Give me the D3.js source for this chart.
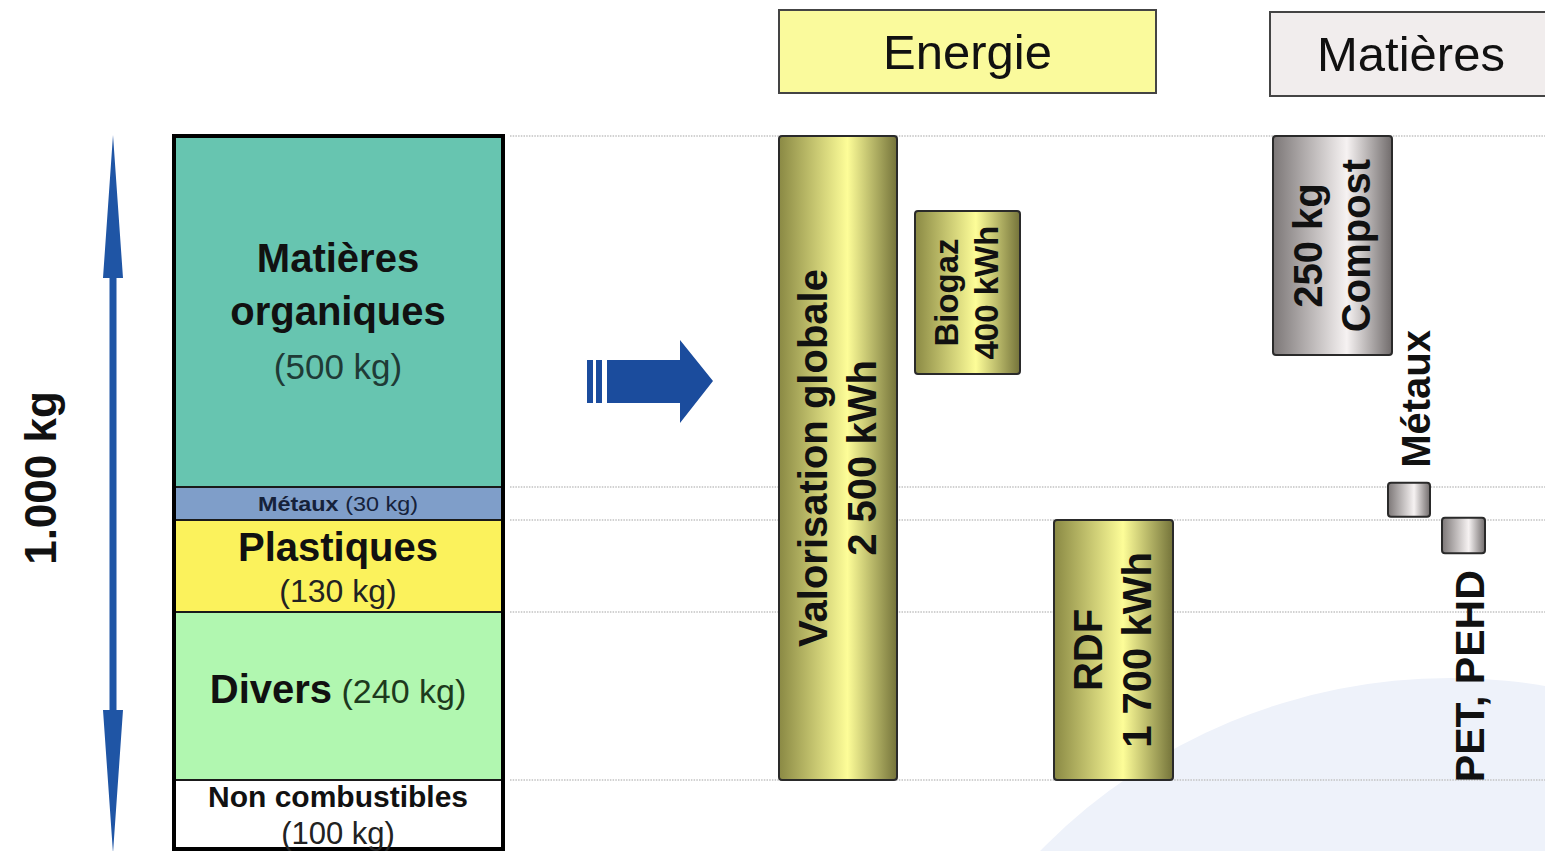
<!DOCTYPE html>
<html>
<head>
<meta charset="utf-8">
<script src="https://cdn.jsdelivr.net/npm/d3@7"></script>
<style>
  body { margin: 0; background: #fff; overflow: hidden; }
  text { font-family: "Liberation Sans", Arial, sans-serif; }
</style>
</head>
<body>
<svg id="chart" width="1545" height="851"></svg>
<script>
// ---- data ----
const TOTAL_KG = 1000
const totalLabel = '1.000 kg'

const fractionNames = ['Matières organiques', 'Métaux', 'Plastiques', 'Divers', 'Non combustibles']
const fractionKg = [500, 30, 130, 240, 100]

const columnTitles = ['Energie', 'Matières']

// energy outputs, drawn against the same kg axis as the input column
const energyLabels = [['Valorisation globale', '2 500 kWh'], ['Biogaz', '400 kWh'], ['RDF', '1 700 kWh']]
const energyFromKg = [0, 107, 530]
const energyToKg = [900, 339, 900]

// material outputs
const materialLabels = [['250 kg', 'Compost'], ['Métaux'], ['PET, PEHD']]
const materialFromKg = [0, 494, 528]
const materialToKg = [312, 527, 577]

// ---- styles / layout ----
const fractionFill = ['#67c5b0', '#7f9ec9', '#fbf25c', '#b1f7b0', '#ffffff']
const energyX = [779, 915, 1054]
const energyW = [118, 105, 119]
const energyFont = [40, 33, 40]
const materialX = [1273, 1388, 1442]
const materialW = [119, 42, 43]

const svg = d3.select('#chart')

// cumulative bounds
const bounds = []
let acc = 0
fractionKg.forEach((kg, i) => {
  bounds.push({name: fractionNames[i], kg: kg, from: acc, to: acc + kg, fill: fractionFill[i]})
  acc += kg
})

// the source drawing is not to a uniform scale: piecewise scale through the band edges
const y = d3.scaleLinear()
  .domain([0].concat(bounds.map(d => d.to)))
  .range([136, 487, 520, 612, 780, 849])

const defs = svg.append('defs')
function cylGradient(id, edgeL, mid, edgeR, midPos) {
  const g = defs.append('linearGradient').attr('id', id)
    .attr('x1', '0%').attr('x2', '100%').attr('y1', '0%').attr('y2', '0%')
  g.append('stop').attr('offset', '0%').attr('stop-color', edgeL)
  g.append('stop').attr('offset', midPos).attr('stop-color', mid)
  g.append('stop').attr('offset', '100%').attr('stop-color', edgeR)
}
cylGradient('gYellow', '#8a8944', '#fdfd98', '#74733a', '58%')
cylGradient('gGrey', '#7c7777', '#f6f2f2', '#716c6c', '62%')

// pale blue backdrop, bottom right
svg.append('circle')
  .attr('cx', 1450).attr('cy', 1250).attr('r', 572)
  .attr('fill', '#eef2fa')

// dotted guide lines at the fraction boundaries
const guideKg = bounds.slice(0, 4).map(d => d.from).concat([bounds[3].to])
svg.selectAll('line.guide')
  .data(guideKg)
  .enter()
  .append('line')
  .attr('class', 'guide')
  .attr('x1', 510).attr('x2', 1545)
  .attr('y1', d => y(d)).attr('y2', d => y(d))
  .attr('stroke', '#c2c2c2')
  .attr('stroke-width', 1.6)
  .attr('stroke-dasharray', '1.5 1.2')

// ---- input column ----
const barX = 176, barW = 325
svg.selectAll('rect.fraction')
  .data(bounds)
  .enter()
  .append('rect')
  .attr('class', 'fraction')
  .attr('x', barX).attr('width', barW)
  .attr('y', d => y(d.from))
  .attr('height', d => y(d.to) - y(d.from))
  .attr('fill', d => d.fill)

svg.selectAll('line.sep')
  .data(bounds.slice(1))
  .enter()
  .append('line')
  .attr('x1', barX).attr('x2', barX + barW)
  .attr('y1', d => y(d.from)).attr('y2', d => y(d.from))
  .attr('stroke', '#1a1a1a').attr('stroke-width', 2)

svg.append('rect')
  .attr('x', barX - 2).attr('y', y(0))
  .attr('width', barW + 4).attr('height', y(TOTAL_KG) - y(0))
  .attr('fill', 'none').attr('stroke', '#000').attr('stroke-width', 4)

// labels inside the column
const cx = 338
const kgTxt = d => '(' + d.kg + ' kg)'
const lab = svg.append('g')
function line(txt, yy, size, weight, fill) {
  return lab.append('text')
    .attr('x', cx).attr('y', yy).attr('dy', '0.35em')
    .attr('text-anchor', 'middle')
    .attr('font-size', size).attr('font-weight', weight)
    .attr('fill', fill || '#111')
    .text(txt)
}
const organic = bounds[0], metal = bounds[1], plastic = bounds[2], divers = bounds[3], nonc = bounds[4]
const words = organic.name.split(' ')
line(words[0], 258, 40, 'bold')
line(words[1], 311, 40, 'bold')
line(kgTxt(organic), 367, 35, 'normal', '#1f3b36')

const mt = lab.append('text')
  .attr('x', cx).attr('y', (y(metal.from) + y(metal.to)) / 2).attr('dy', '0.35em')
  .attr('text-anchor', 'middle').attr('font-size', 21)
  .attr('textLength', 160).attr('lengthAdjust', 'spacingAndGlyphs')
  .attr('fill', '#16223a')
mt.append('tspan').attr('font-weight', 'bold').text(metal.name)
mt.append('tspan').text(' ' + kgTxt(metal))

line(plastic.name, 547, 40, 'bold')
line(kgTxt(plastic), 591, 32, 'normal', '#222')

const dv = lab.append('text')
  .attr('x', cx).attr('y', 697).attr('dy', '0.35em')
  .attr('text-anchor', 'middle').attr('fill', '#111')
dv.append('tspan').attr('font-size', 40).attr('font-weight', 'bold').text(divers.name)
dv.append('tspan').attr('font-size', 34).attr('fill', '#1d3a1d').text(' ' + kgTxt(divers))

line(nonc.name, 796, 30, 'bold')
line(kgTxt(nonc), 833, 31, 'normal', '#222')

// ---- total double arrow ----
const ax = 113, y0 = y(0) - 1, y1 = y(TOTAL_KG) + 4
const headLen = 143, headHalf = 10, shaftHalf = 3.5
svg.append('path')
  .attr('d', d3.line()([
    [ax, y0], [ax + headHalf, y0 + headLen], [ax + shaftHalf, y0 + headLen],
    [ax + shaftHalf, y1 - headLen], [ax + headHalf, y1 - headLen], [ax, y1],
    [ax - headHalf, y1 - headLen], [ax - shaftHalf, y1 - headLen],
    [ax - shaftHalf, y0 + headLen], [ax - headHalf, y0 + headLen]
  ]) + 'Z')
  .attr('fill', '#1f55a5')

svg.append('text')
  .attr('transform', 'translate(41,' + ((y0 + y1) / 2 - 16) + ') rotate(-90)')
  .attr('dy', '0.35em')
  .attr('text-anchor', 'middle')
  .attr('font-size', 44).attr('font-weight', 'bold').attr('fill', '#111')
  .text(totalLabel)

// ---- big flow arrow ----
const arrowBlue = '#1b4c9d'
svg.append('path')
  .attr('d', 'M607,360 L680,360 L680,340 L713,381 L680,423 L680,403 L607,403 Z')
  .attr('fill', arrowBlue)
svg.selectAll('rect.stripe')
  .data([587, 596])
  .enter()
  .append('rect')
  .attr('x', d => d).attr('width', 6)
  .attr('y', 360).attr('height', 43)
  .attr('fill', arrowBlue)

// ---- column titles ----
const titleBoxes = [
  {x: 779, y: 10, w: 377, h: 83, fill: '#fafa9c'},
  {x: 1270, y: 12, w: 282, h: 84, fill: '#f1eded'}
]
titleBoxes.forEach((b, i) => {
  svg.append('rect')
    .attr('x', b.x).attr('y', b.y).attr('width', b.w).attr('height', b.h)
    .attr('fill', b.fill).attr('stroke', '#444').attr('stroke-width', 2)
  svg.append('text')
    .attr('x', b.x + b.w / 2).attr('y', b.y + b.h / 2).attr('dy', '0.35em')
    .attr('text-anchor', 'middle').attr('font-size', 49).attr('fill', '#111')
    .text(columnTitles[i])
})

// ---- output blocks ----
function block(x, w, from, to, grad) {
  svg.append('rect')
    .attr('x', x).attr('width', w)
    .attr('y', y(from)).attr('height', y(to) - y(from))
    .attr('rx', 3)
    .attr('fill', 'url(#' + grad + ')')
    .attr('stroke', '#2a2a2a').attr('stroke-width', 2)
}
function rotatedLines(lines, x, yy, size, gap) {
  const g = svg.append('g').attr('transform', 'translate(' + x + ',' + yy + ') rotate(-90)')
  lines.forEach((t, i) => {
    g.append('text')
      .attr('x', 0).attr('y', (i - (lines.length - 1) / 2) * gap)
      .attr('dy', '0.35em').attr('text-anchor', 'middle')
      .attr('font-size', size).attr('font-weight', 'bold').attr('fill', '#111')
      .text(t)
  })
}

energyLabels.forEach((lbl, i) => {
  block(energyX[i], energyW[i], energyFromKg[i], energyToKg[i], 'gYellow')
  const mid = (y(energyFromKg[i]) + y(energyToKg[i])) / 2
  rotatedLines(lbl, energyX[i] + energyW[i] / 2 - 1, mid, energyFont[i], energyFont[i] === 40 ? 49 : 40)
})

// compost: label inside
block(materialX[0], materialW[0], materialFromKg[0], materialToKg[0], 'gGrey')
rotatedLines(materialLabels[0], materialX[0] + materialW[0] / 2 - 1,
  (y(materialFromKg[0]) + y(materialToKg[0])) / 2, 40, 48)

// métaux: label above the box
block(materialX[1], materialW[1], materialFromKg[1], materialToKg[1], 'gGrey')
svg.append('text')
  .attr('transform', 'translate(' + (materialX[1] + 28) + ',' + (y(materialFromKg[1]) - 15) + ') rotate(-90)')
  .attr('dy', '0.35em').attr('text-anchor', 'start')
  .attr('font-size', 40).attr('font-weight', 'bold').attr('fill', '#111')
  .text(materialLabels[1][0])

// PET, PEHD: label below the box
block(materialX[2], materialW[2], materialFromKg[2], materialToKg[2], 'gGrey')
svg.append('text')
  .attr('transform', 'translate(' + (materialX[2] + 28) + ',' + (y(materialToKg[2]) + 17) + ') rotate(-90)')
  .attr('dy', '0.35em').attr('text-anchor', 'end')
  .attr('font-size', 41).attr('font-weight', 'bold').attr('fill', '#111')
  .text(materialLabels[2][0])
</script>
</body>
</html>
